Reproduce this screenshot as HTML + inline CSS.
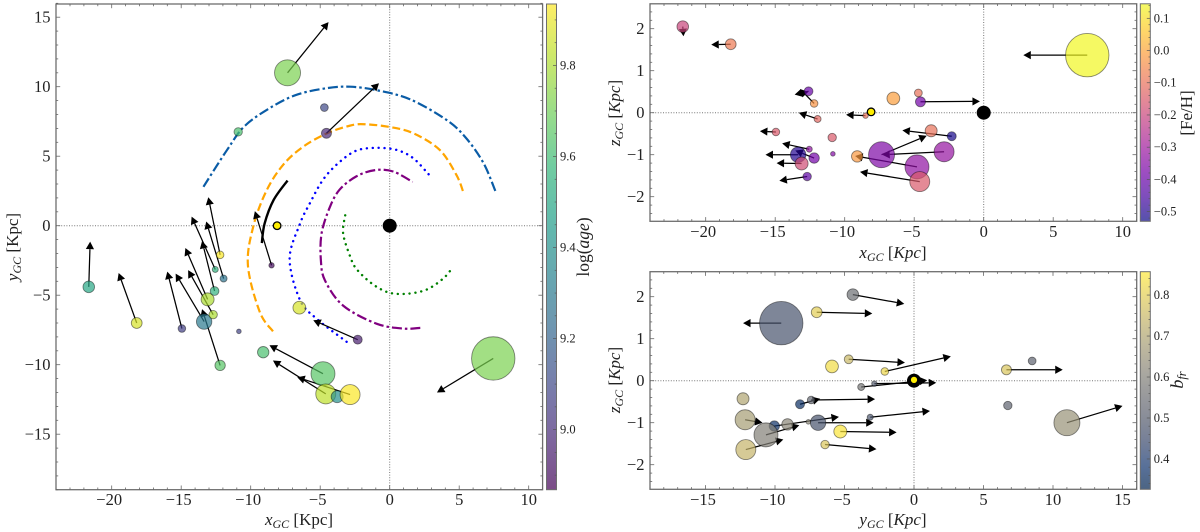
<!DOCTYPE html>
<html lang="en">
<head>
<meta charset="utf-8">
<title>Open cluster positions and velocities</title>
<style>
  html, body { margin: 0; padding: 0; background: #fff; }
  body { width: 1200px; height: 532px; overflow: hidden; }
  svg { display: block; filter: blur(0.3px); }
  text { font-family: "Liberation Serif", serif; fill: #222; }
  .math { font-style: italic; }
</style>
</head>
<body>
<svg id="figure" xmlns="http://www.w3.org/2000/svg" width="1200" height="532" viewBox="0 0 1200 532">
  <g id="panel-xy"></g>
  <g id="panel-xz"></g>
  <g id="panel-yz"></g>

  <text x="299" y="525" text-anchor="middle" font-size="17"><tspan class="math">x</tspan><tspan class="math" font-size="12" dy="3">GC</tspan><tspan dy="-3"> [Kpc]</tspan></text>
  <text transform="translate(18,247) rotate(-90)" text-anchor="middle" font-size="17"><tspan class="math">y</tspan><tspan class="math" font-size="12" dy="3">GC</tspan><tspan dy="-3"> [Kpc]</tspan></text>
  <text transform="translate(589,247) rotate(-90)" text-anchor="middle" font-size="17.5">log(<tspan class="math">age</tspan>)</text>

  <text x="893" y="258" text-anchor="middle" font-size="17"><tspan class="math">x</tspan><tspan class="math" font-size="12" dy="3">GC</tspan><tspan dy="-3"> [</tspan><tspan class="math">Kpc</tspan>]</text>
  <text transform="translate(620,113) rotate(-90)" text-anchor="middle" font-size="17"><tspan class="math">z</tspan><tspan class="math" font-size="12" dy="3">GC</tspan><tspan dy="-3"> [</tspan><tspan class="math">Kpc</tspan>]</text>
  <text transform="translate(1192,113) rotate(-90)" text-anchor="middle" font-size="17">[Fe/H]</text>

  <text x="893" y="525" text-anchor="middle" font-size="17"><tspan class="math">y</tspan><tspan class="math" font-size="12" dy="3">GC</tspan><tspan dy="-3"> [</tspan><tspan class="math">Kpc</tspan>]</text>
  <text transform="translate(620,380) rotate(-90)" text-anchor="middle" font-size="17"><tspan class="math">z</tspan><tspan class="math" font-size="12" dy="3">GC</tspan><tspan dy="-3"> [</tspan><tspan class="math">Kpc</tspan>]</text>
  <text transform="translate(1183,380) rotate(-90)" text-anchor="middle" font-size="18"><tspan class="math">b</tspan><tspan class="math" font-size="12.5" dy="3">fr</tspan></text>
</svg>

<script>
// ---- Cluster measurements (kpc, dex, etc.), one entry per cluster ----
const clusterX = [7.45,-7.35,-4.7,-4.55,-10.9,-21.65,-18.2,-14.95,-13.35,-12.7,-12.2,-13.1,-12.6,-12.55,-11.95,-12.2,-10.85,-8.5,-9.1,-4.8,-4.6,-3.78,-2.85,-2.3,-6.5];
const clusterY = [-9.55,11,8.5,6.65,6.75,-4.4,-7,-7.4,-6.9,-6.4,-10.05,-5.3,-4.7,-3.15,-3.8,-2.1,-7.6,-2.85,-9.1,-10.65,-12.1,-12.3,-12.15,-8.2,-5.9];
const clusterZ = [1.37,-1,0.47,0.26,-0.59,2.05,1.63,-0.46,-1,-1.52,-1.08,-1.21,0.51,-0.87,-0.15,0.22,-0.98,-0.07,-1.04,-1.29,-1.64,-0.43,-0.93,-0.56,0.34];
const clusterLogAge = [9.72,9.72,9.1,8.98,9.62,9.5,9.87,9.07,9.3,9.8,9.65,9.8,9.55,9.55,9.28,9.93,9.08,8.9,9.62,9.65,9.83,9.4,9.93,8.95,9.87];
const clusterFeH = [0.14,-0.36,-0.1,-0.38,-0.15,-0.2,-0.08,-0.15,-0.5,-0.42,-0.38,-0.18,-0.4,-0.33,-0.12,-0.03,-0.35,-0.1,-0.02,-0.33,-0.15,-0.1,-0.32,-0.52,-0.01];
const clusterBfr = [0.47,0.65,0.52,0.78,0.52,0.55,0.8,0.53,0.47,0.78,0.37,0.85,0.75,0.48,0.57,0.82,0.62,0.5,0.62,0.6,0.74,0.7,0.68,0.36,0.83];
const clusterMass = [217,130,39,50,42,58,54,38,77,42,52,65,44,30,35,38,23,27,57,120,100,60,100,45,64];

// ---- Projected velocity arrow tips (null = cluster has no measured arrow) ----
const tipXYx = [3.4,-4.4,null,-0.77,null,-21.55,-19.5,-16,-15.4,-14.5,-13.5,-14.7,-13.5,-14.25,-13.2,-13.05,null,-9.7,null,-8.65,-8.4,null,-6.65,-5.5,null];
const tipXYy = [-12,14.65,null,10.25,null,-1.15,-3.4,-3.3,-3.45,-3.2,-6,-1.6,-1.1,0.65,0.3,2.05,null,1.05,null,-8.6,-9.7,null,-10.9,-6.8,null];
const tipXZx = [2.85,-4.1,null,-0.27,null,-21.6,-19.6,-16.1,-15.7,-14.7,-13.55,-14.9,-13.6,-14.5,-13.3,-13.2,null,-9.9,null,-9.25,-8.9,null,-7.3,-5.85,null];
const tipXZz = [1.37,-0.55,null,0.27,null,1.82,1.62,-0.44,-1,-1.62,-0.9,-1.2,0.43,-0.73,0,0.56,null,-0.05,null,-1.03,-1.41,null,-1,-0.42,null];
const tipYZy = [-12.3,15,null,10.7,null,-0.7,-3,-2.8,-2.9,-2.7,-5.4,-1.25,-0.65,1.15,0.95,2.65,null,1.6,null,-8.25,-9.4,null,-10.9,-6.75,null];
const tipYZz = [1.37,-0.6,null,0.26,null,1.83,1.6,-0.44,-1,-1.63,-0.86,-1.23,0.43,-0.72,0.01,0.58,null,-0.05,null,-1.06,-1.4,null,-1,-0.43,null];

// ---- Spiral arm traces (x,y in kpc) ----
const armOuterX = [-13.4,-11.7,-10.4,-8.4,-6.6,-4.5,-2.85,-0.95,1.45,4.1,5.5,6.75,7.6];
const armOuterY = [2.8,5.45,7.2,8.6,9.45,9.9,10,9.75,9.1,7.6,6.3,4.5,2.5];
const armOrangeX = [-8.4,-9.35,-10.2,-9.8,-8.85,-7.65,-6.2,-4.5,-2.85,-1.8,0,1.7,3.6,4.8,5.3];
const armOrangeY = [-7.6,-6.2,-2.85,0,2.55,4.4,5.7,6.65,7.2,7.3,7.1,6.65,5.45,3.65,2.4];
const armBlueX = [-3.1,-5.25,-6.45,-7.2,-6.45,-5.75,-4.8,-3.7,-2.4,-0.95,0.5,1.7,2.8];
const armBlueY = [-8.35,-6.7,-5.35,-2.4,0.15,1.6,3.3,4.5,5.4,5.6,5.45,4.85,3.7];
const armPurpleX = [2.2,1,-0.95,-3.35,-4.65,-4.95,-4.9,-4.3,-3.6,-2.4,-1.05,0.25,1.65];
const armPurpleY = [-7.35,-7.4,-7.05,-5.75,-3.95,-2.5,-0.55,1.35,2.6,3.55,4,3.9,3.15];
const armGreenX = [-3.2,-3.35,-2.85,-2.4,-1.3,-0.1,1.2,2.65,3.85,4.5];
const armGreenY = [0.75,-0.55,-2.2,-3.1,-4.15,-4.8,-4.9,-4.6,-3.8,-3.05];
const armLocalX = [-7.35,-8.35,-9,-9.2];
const armLocalY = [3.25,1.85,0.15,-1.25];

// ---- Tick labels ----
const xyXTicks = [-20,-15,-10,-5,0,5,10];
const xyYTicks = [-15,-10,-5,0,5,10,15];
const xzYTicks = [-2,-1,0,1,2];
const yzXTicks = [-15,-10,-5,0,5,10,15];
const ageBarTicks = [9.0,9.2,9.4,9.6,9.8];
const fehBarTicks = [-0.5,-0.4,-0.3,-0.2,-0.1,0.0,0.1];
const bfrBarTicks = [0.4,0.5,0.6,0.7,0.8];

// ---- Colormaps ----
const viridisStops = ["#440154","#482878","#3e4989","#31688e","#26828e","#1f9e89","#35b779","#6ece58","#b5de2b","#fde725"];
const plasmaStops = ["#0d0887","#46039f","#7201a8","#9c179e","#bd3786","#d8576b","#ed7953","#fb9f3a","#fdca26","#f0f921"];
const cividisStops = ["#00224e","#123570","#3b496c","#575d6d","#707173","#8a8678","#a59c74","#c3b369","#e1cc55","#fee838"];

const NS = "http://www.w3.org/2000/svg";
function mk(tag, attrs, parent) {
  const e = document.createElementNS(NS, tag);
  for (const k in attrs) e.setAttribute(k, attrs[k]);
  parent.appendChild(e);
  return e;
}
function hexRgb(h) { return [1,3,5].map(i => parseInt(h.substr(i,2),16)); }
function cmap(stops, t) {
  t = Math.max(0, Math.min(1, t));
  const p = t * (stops.length - 1), i = Math.min(Math.floor(p), stops.length - 2), f = p - i;
  const a = hexRgb(stops[i]), b = hexRgb(stops[i+1]);
  return "rgb(" + a.map((v,j) => Math.round(v + (b[j]-v)*f)).join(",") + ")";
}
function fmtTick(v, digits) {
  const s = Math.abs(v).toFixed(digits);
  return (v < -1e-9 ? "\u2212" : "") + s;
}
function arrow(g, x0, y0, x1, y1) {
  const dx = x1-x0, dy = y1-y0, L = Math.hypot(dx,dy) || 1, ux = dx/L, uy = dy/L;
  const hl = 7.5, hw = 4.1;
  const bx = x1-ux*hl, by = y1-uy*hl;
  const shaft = mk("line", {x1:x0,y1:y0,x2:bx,y2:by,stroke:"#000","stroke-width":1.25}, g);
  
  
  const head = mk("polygon", {points:[x1,y1,bx-uy*hw,by+ux*hw,bx+uy*hw,by-ux*hw].join(","),fill:"#000"}, g);
  
  
}
function smoothPath(px, py) {
  let d = "M" + px[0] + " " + py[0];
  for (let i = 0; i < px.length-1; i++) {
    const a = Math.max(i-1,0), c = i+1, e = Math.min(i+2,px.length-1);
    const c1x = px[i]+(px[c]-px[a])/6, c1y = py[i]+(py[c]-py[a])/6;
    const c2x = px[c]-(px[e]-px[i])/6, c2y = py[c]-(py[e]-py[i])/6;
    d += "C"+c1x.toFixed(2)+" "+c1y.toFixed(2)+" "+c2x.toFixed(2)+" "+c2y.toFixed(2)+" "+px[c].toFixed(2)+" "+py[c].toFixed(2);
  }
  return d;
}
function rOf(mass) { return mass * 0.1; }

function drawPanel(cfg) {
  const g = document.getElementById(cfg.id);
  const sx = v => cfg.x0 + cfg.xScale * v;
  const sy = v => cfg.y0 - cfg.yScale * v;
  const L = cfg.left, R = cfg.right, T = cfg.top, B = cfg.bottom;
  const clipId = cfg.id + "-clip";
  const defs = mk("defs", {}, g);
  const cp = mk("clipPath", {id:clipId}, defs);
  mk("rect", {x:L,y:T,width:R-L,height:B-T}, cp);

  // zero guides
  const plot = mk("g", {"clip-path":"url(#"+clipId+")"}, g);
  const gh = mk("line", {x1:L,x2:R,y1:sy(0),y2:sy(0),stroke:"#777","stroke-width":1,"stroke-dasharray":"1 1.6"}, plot);
  
  
  const gv = mk("line", {x1:sx(0),x2:sx(0),y1:T,y2:B,stroke:"#777","stroke-width":1,"stroke-dasharray":"1 1.6"}, plot);
  
  

  if (cfg.arms) {
    cfg.arms.forEach(a => {
      const p = mk("path", {d:smoothPath(a.xs.map(sx), a.ys.map(sy)),fill:"none",stroke:a.color,"stroke-width":a.width,"stroke-dasharray":a.dash||"none","stroke-linecap":a.cap||"butt"}, plot);
      
      
    });
  }
  // arrows under the translucent markers
  const arrows = mk("g", {}, plot);
  
  
  cfg.px.forEach((v,i) => {
    if (cfg.tipX[i] === null) return;
    arrow(arrows, sx(v), sy(cfg.py[i]), sx(cfg.tipX[i]), sy(cfg.tipY[i]));
  });
  // markers
  cfg.px.forEach((v,i) => {
    const c = mk("circle", {cx:sx(v),cy:sy(cfg.py[i]),r:rOf(clusterMass[i]),fill:cmap(cfg.stops,(cfg.colour[i]-cfg.cMin)/(cfg.cMax-cfg.cMin)),"fill-opacity":0.7,stroke:"#000","stroke-opacity":0.45,"stroke-width":0.9}, plot);
    
    
  });
  // galactic centre and sun
  const gc = mk("circle", {cx:sx(cfg.gcX),cy:sy(cfg.gcY),r:7,fill:"#000"}, plot);
  
  
  const sun = mk("circle", {cx:sx(cfg.sunX),cy:sy(cfg.sunY),r:3.8,fill:"#ffee00",stroke:"#000","stroke-width":1.3}, plot);
  
  

  // frame and ticks
  const frame = mk("rect", {x:L,y:T,width:R-L,height:B-T,fill:"none",stroke:"#6e6e6e","stroke-width":1.3}, g);
  
  
  const ticks = mk("g", {stroke:"#666","stroke-width":0.8}, g);
  
  
  const eps = 1e-6;
  for (let k = Math.ceil(cfg.xMin/cfg.xMinor); k*cfg.xMinor <= cfg.xMax+eps; k++) {
    const v = k*cfg.xMinor, len = Math.abs(v/cfg.xMajor - Math.round(v/cfg.xMajor)) < 1e-6 ? 4.2 : 2.2;
    mk("line", {x1:sx(v),x2:sx(v),y1:B,y2:B-len}, ticks);
    mk("line", {x1:sx(v),x2:sx(v),y1:T,y2:T+len}, ticks);
  }
  for (let k = Math.ceil(cfg.yMin/cfg.yMinor); k*cfg.yMinor <= cfg.yMax+eps; k++) {
    const v = k*cfg.yMinor, len = Math.abs(v/cfg.yMajor - Math.round(v/cfg.yMajor)) < 1e-6 ? 4.2 : 2.2;
    mk("line", {x1:L,x2:L+len,y1:sy(v),y2:sy(v)}, ticks);
    mk("line", {x1:R,x2:R-len,y1:sy(v),y2:sy(v)}, ticks);
  }
  cfg.xTicks.forEach(v => {
    const t = mk("text", {x:sx(v)-(v<0?2.5:0),y:B+15.5,"text-anchor":"middle","font-size":16.5}, g);
    t.textContent = fmtTick(v,0);
    
    
  });
  cfg.yTicks.forEach(v => {
    const t = mk("text", {x:L-5.5,y:sy(v)+5.5,"text-anchor":"end","font-size":16.5}, g);
    t.textContent = fmtTick(v,0);
    
    
  });

  // colorbar
  const bL = cfg.barLeft, bR = cfg.barLeft + 10;
  const gradId = cfg.id + "-grad";
  const grad = mk("linearGradient", {id:gradId,x1:0,y1:1,x2:0,y2:0}, defs);
  for (let i = 0; i <= 30; i++) {
    mk("stop", {offset:(i/30),"stop-color":cmap(cfg.stops,i/30)}, grad);
  }
  const bar = mk("rect", {x:bL,y:T,width:10,height:B-T,fill:"url(#"+gradId+")","fill-opacity":0.7,stroke:"#6e6e6e","stroke-width":1}, g);
  
  
  const cy = v => B - (v-cfg.cMin)/(cfg.cMax-cfg.cMin)*(B-T);
  const barTicks = mk("g", {stroke:"#555","stroke-width":0.7}, g);
  
  
  for (let k = Math.ceil(cfg.cMin/cfg.cMinorStep); k*cfg.cMinorStep <= cfg.cMax; k++) {
    const v = k*cfg.cMinorStep;
    const isMajor = Math.abs(v/cfg.cMajorStep - Math.round(v/cfg.cMajorStep)) < 1e-6;
    mk("line", {x1:bR,x2:bR-(isMajor?3.5:1.8),y1:cy(v),y2:cy(v)}, barTicks);
  }
  cfg.barTicks.forEach(v => {
    const t = mk("text", {x:bR+3.5,y:cy(v)+4,"font-size":12.5}, g);
    t.textContent = fmtTick(v,1);
    
    
  });
}

drawPanel({
  id:"panel-xy", left:56, right:542.6, top:4, bottom:489.7,
  x0:389.7, y0:225.7, xScale:13.9, yScale:13.9,
  xMin:-24, xMax:11, yMin:-19, yMax:16, xMajor:5, yMajor:5, xMinor:1, yMinor:1,
  xTicks:xyXTicks, yTicks:xyYTicks,
  px:clusterX, py:clusterY, tipX:tipXYx, tipY:tipXYy,
  colour:clusterLogAge, stops:viridisStops, cMin:8.868, cMax:9.935,
  barLeft:546.5, barTicks:ageBarTicks, cMajorStep:0.2, cMinorStep:0.05,
  gcX:0, gcY:0, sunX:-8.1, sunY:0,
  arms:[
    {name:"outer-spiral-arm", xs:armOuterX, ys:armOuterY, color:"#0a5ca6", width:2.2, dash:"10 3 2.5 3"},
    {name:"orange-spiral-arm", xs:armOrangeX, ys:armOrangeY, color:"#ffa500", width:2.2, dash:"8 3.6"},
    {name:"blue-spiral-arm", xs:armBlueX, ys:armBlueY, color:"#0000ff", width:2.4, dash:"0.1 5.8", cap:"round"},
    {name:"purple-spiral-arm", xs:armPurpleX, ys:armPurpleY, color:"#800080", width:2.2, dash:"10 3 2.5 3"},
    {name:"inner-green-spiral-arm", xs:armGreenX, ys:armGreenY, color:"#008000", width:2.4, dash:"0.1 5.8", cap:"round"},
    {name:"local-black-arm", xs:armLocalX, ys:armLocalY, color:"#000", width:2.4}
  ]
});

drawPanel({
  id:"panel-xz", left:650, right:1136.7, top:3.8, bottom:221.3,
  x0:983.7, y0:112.7, xScale:13.9, yScale:42,
  xMin:-24, xMax:11, yMin:-2.58, yMax:2.58, xMajor:5, yMajor:1, xMinor:1, yMinor:0.2,
  xTicks:xyXTicks, yTicks:xzYTicks,
  px:clusterX, py:clusterZ, tipX:tipXZx, tipY:tipXZz,
  colour:clusterFeH, stops:plasmaStops, cMin:-0.53, cMax:0.145,
  barLeft:1140.3, barTicks:fehBarTicks, cMajorStep:0.1, cMinorStep:0.02,
  gcX:0, gcY:0, sunX:-8.1, sunY:0.02
});

drawPanel({
  id:"panel-yz", left:650, right:1136.7, top:271.7, bottom:489.3,
  x0:914, y0:380.7, xScale:13.9, yScale:42,
  xMin:-19, xMax:16, yMin:-2.58, yMax:2.58, xMajor:5, yMajor:1, xMinor:1, yMinor:0.2,
  xTicks:yzXTicks, yTicks:xzYTicks,
  px:clusterY, py:clusterZ, tipX:tipYZy, tipY:tipYZz,
  colour:clusterBfr, stops:cividisStops, cMin:0.326, cMax:0.857,
  barLeft:1140.3, barTicks:bfrBarTicks, cMajorStep:0.1, cMinorStep:0.02,
  gcX:0, gcY:0, sunX:0, sunY:0.02
});
</script>
</body>
</html>
